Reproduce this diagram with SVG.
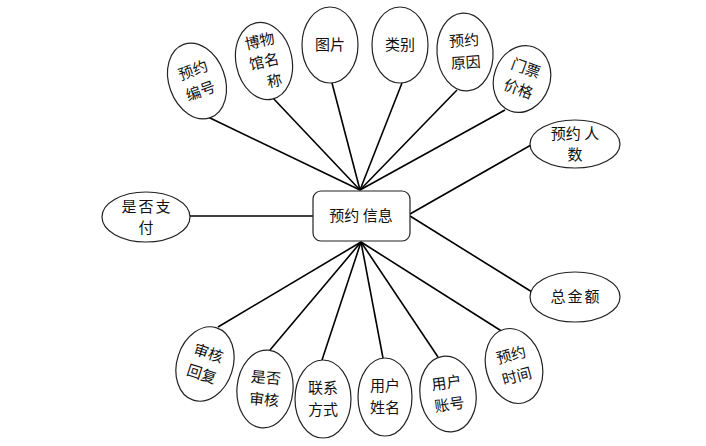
<svg xmlns="http://www.w3.org/2000/svg" width="706" height="446" viewBox="0 0 706 446">
<style>
.e{fill:#fff;stroke:#222;stroke-width:1.2}
.t{font-family:"Noto Sans CJK SC","Liberation Sans",sans-serif;font-size:15px;fill:#111;text-anchor:middle}
.w{letter-spacing:2px}
.c line{stroke:#000;stroke-width:1.6}
</style>
<rect width="706" height="446" fill="#fff"/>
<g class="c" id="connectors">
<line x1="360" y1="190" x2="208" y2="117"/>
<line x1="360" y1="190" x2="272" y2="97"/>
<line x1="360" y1="190" x2="332" y2="83"/>
<line x1="360" y1="190" x2="402" y2="83"/>
<line x1="360" y1="190" x2="457" y2="90"/>
<line x1="360" y1="190" x2="505" y2="110"/>
<line x1="410" y1="214" x2="531" y2="145"/>
<line x1="410" y1="216" x2="532" y2="292"/>
<line x1="190" y1="216" x2="313" y2="216"/>
<line x1="361" y1="242" x2="218" y2="327"/>
<line x1="361" y1="242" x2="270" y2="350"/>
<line x1="361" y1="242" x2="322" y2="360"/>
<line x1="361" y1="242" x2="383" y2="358"/>
<line x1="361" y1="242" x2="438" y2="357"/>
<line x1="361" y1="242" x2="503" y2="332"/>
</g>
<g id="center">
<rect x="313" y="191" width="97" height="50" rx="8" fill="#fff" stroke="#222" stroke-width="1.2"/>
<text class="t" x="361" y="221">预约 信息</text>
</g>
<g id="n1" transform="rotate(-20 197 81)">
<ellipse class="e" cx="197" cy="81" rx="28" ry="39"/>
<text class="t" x="197" y="75">预约</text>
<text class="t" x="197" y="97">编号</text>
</g>
<g id="n2" transform="rotate(-12 264 61)">
<ellipse class="e" cx="264" cy="61" rx="28" ry="39"/>
<text class="t" x="264" y="46">博物</text>
<text class="t" x="264" y="67">馆名</text>
<text class="t" x="270" y="88">称</text>
</g>
<g id="n3">
<ellipse class="e" cx="330" cy="45" rx="28" ry="38"/>
<text class="t" x="330" y="50">图片</text>
</g>
<g id="n4">
<ellipse class="e" cx="400" cy="45" rx="28" ry="38"/>
<text class="t" x="400" y="50">类别</text>
</g>
<g id="n5" transform="rotate(-4 465 52)">
<ellipse class="e" cx="465" cy="52" rx="28" ry="39"/>
<text class="t" x="465" y="46">预约</text>
<text class="t" x="465" y="68">原因</text>
</g>
<g id="n6" transform="rotate(20 522 79)">
<ellipse class="e" cx="522" cy="79" rx="28" ry="34"/>
<text class="t" x="522" y="73">门票</text>
<text class="t" x="522" y="95">价格</text>
</g>
<g id="n7">
<ellipse class="e" cx="575" cy="144" rx="45" ry="24"/>
<text class="t" x="575" y="139">预约 人</text>
<text class="t" x="575" y="160">数</text>
</g>
<g id="n8">
<ellipse class="e" cx="146" cy="217" rx="44" ry="25"/>
<text class="t w" x="147" y="212">是否支</text>
<text class="t" x="146" y="233">付</text>
</g>
<g id="n9">
<ellipse class="e" cx="575" cy="297" rx="45" ry="25"/>
<text class="t w" x="576" y="302">总金额</text>
</g>
<g id="n10" transform="rotate(18 205 364)">
<ellipse class="e" cx="205" cy="364" rx="28" ry="38"/>
<text class="t" x="205" y="358">审核</text>
<text class="t" x="205" y="380">回复</text>
</g>
<g id="n11" transform="rotate(5 265 389)">
<ellipse class="e" cx="265" cy="389" rx="28" ry="39"/>
<text class="t" x="265" y="383">是否</text>
<text class="t" x="265" y="405">审核</text>
</g>
<g id="n12">
<ellipse class="e" cx="323" cy="399" rx="28" ry="39"/>
<text class="t" x="323" y="393">联系</text>
<text class="t" x="323" y="415">方式</text>
</g>
<g id="n13">
<ellipse class="e" cx="385" cy="397" rx="27" ry="39"/>
<text class="t" x="385" y="391">用户</text>
<text class="t" x="385" y="413">姓名</text>
</g>
<g id="n14" transform="rotate(-8 448 394)">
<ellipse class="e" cx="448" cy="394" rx="28" ry="38"/>
<text class="t" x="448" y="388">用户</text>
<text class="t" x="448" y="410">账号</text>
</g>
<g id="n15" transform="rotate(-15 514 366)">
<ellipse class="e" cx="514" cy="366" rx="28" ry="38"/>
<text class="t" x="514" y="360">预约</text>
<text class="t" x="514" y="382">时间</text>
</g>
</svg>
